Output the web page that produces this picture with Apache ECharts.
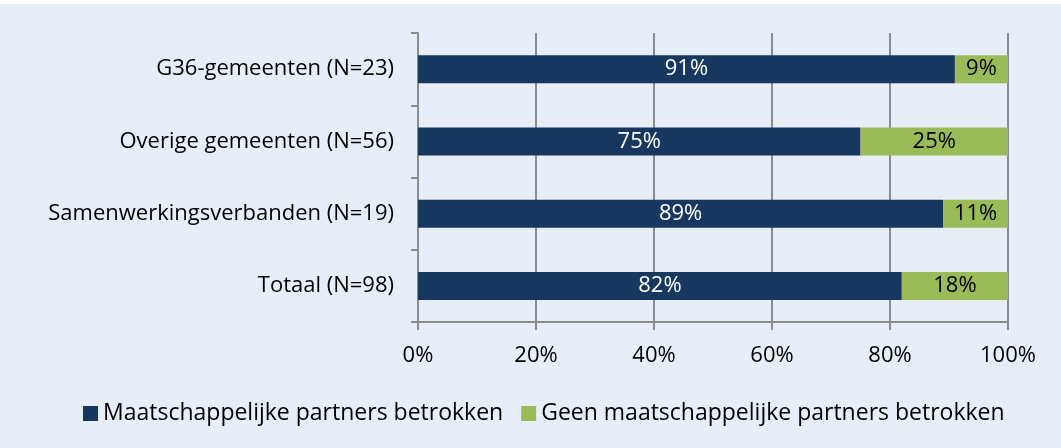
<!DOCTYPE html>
<html>
<head>
<meta charset="utf-8">
<script src="https://cdn.jsdelivr.net/npm/echarts@6/dist/echarts.min.js"></script>
<style>
  html, body { margin: 0; padding: 0; background: #fff; }
  #chart { position: absolute; left: 0; top: 4px; width: 1061px; height: 444px; background: #e8eef7; }
</style>
</head>
<body>
<div id="chart"></div>
<script>
// categories from bottom to top
var categories = ['Totaal (N=98)', 'Samenwerkingsverbanden (N=19)', 'Overige gemeenten (N=56)', 'G36-gemeenten (N=23)']
var betrokken = [82, 89, 75, 91]
var geen = [18, 11, 25, 9]
var seriesNames = ['Maatschappelijke partners betrokken', 'Geen maatschappelijke partners betrokken']

var font = 'Open Sans'
var chart = echarts.init(document.getElementById('chart'))
chart.setOption({
  animation: false,
  textStyle: { fontFamily: font },
  grid: { left: 418, right: 53, top: 29, bottom: 126 },
  legend: {
    bottom: 18,
    left: 78,
    itemWidth: 15,
    itemHeight: 15,
    itemGap: 18,
    icon: 'rect',
    textStyle: { fontSize: 23, color: '#000', fontFamily: font },
    data: seriesNames
  },
  xAxis: {
    type: 'value',
    min: 0,
    max: 100,
    interval: 20,
    axisLine: { show: true, lineStyle: { color: '#8c8c8c', width: 2 } },
    axisTick: { show: true, length: 8, lineStyle: { color: '#8c8c8c', width: 2 } },
    splitLine: { show: true, lineStyle: { color: '#8c8c8c', width: 2 } },
    axisLabel: { formatter: '{value}%', fontSize: 22, color: '#000', margin: 23 }
  },
  yAxis: {
    type: 'category',
    data: categories,
    axisLine: { show: true, lineStyle: { color: '#8c8c8c', width: 2 } },
    axisTick: { show: true, length: 7, lineStyle: { color: '#8c8c8c', width: 2 } },
    axisLabel: { fontSize: 22, color: '#000', margin: 24 }
  },
  series: [
    {
      name: seriesNames[0],
      type: 'bar',
      stack: 'total',
      barWidth: 28,
      data: betrokken,
      itemStyle: { color: '#17375e' },
      label: { show: true, position: 'inside', formatter: '{c}%', color: '#fff', fontSize: 22 }
    },
    {
      name: seriesNames[1],
      type: 'bar',
      stack: 'total',
      barWidth: 28,
      data: geen,
      itemStyle: { color: '#9bbb59' },
      label: { show: true, position: 'inside', formatter: '{c}%', color: '#000', fontSize: 22 }
    }
  ]
})
</script>
</body>
</html>
